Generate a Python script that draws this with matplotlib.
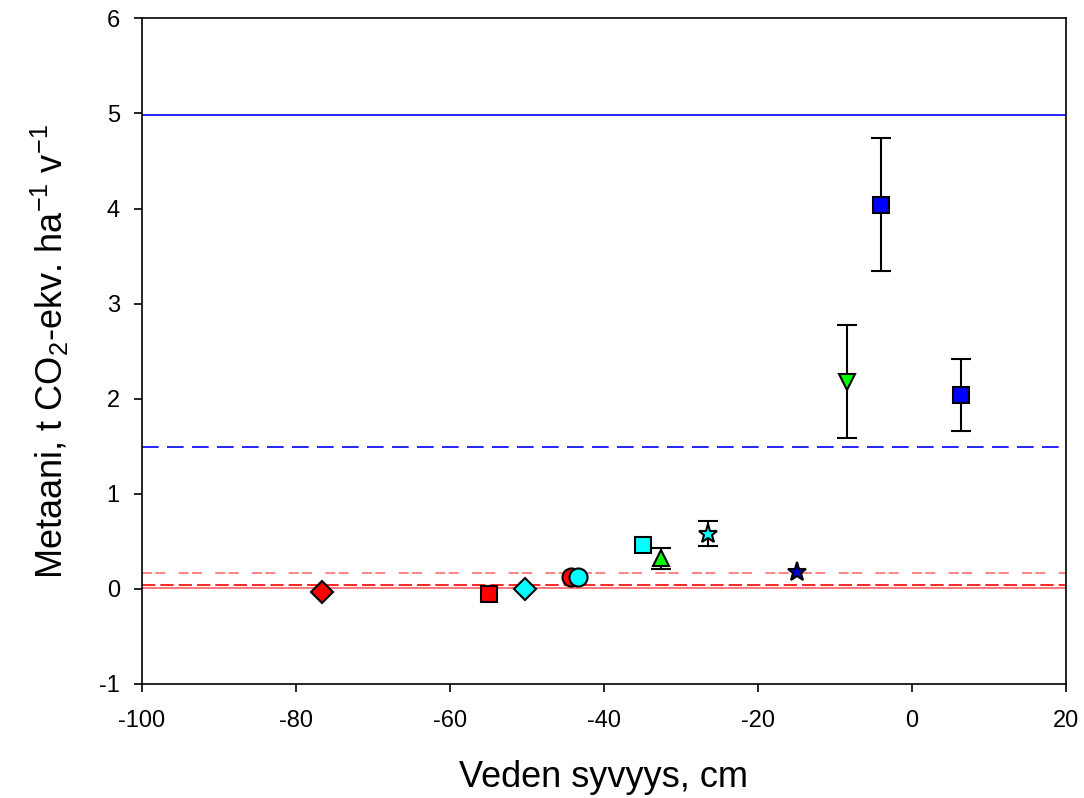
import numpy as np
import matplotlib
matplotlib.use("Agg")
from matplotlib import pyplot as plt

plt.rcParams['font.family'] = ['Liberation Sans', 'DejaVu Sans']
plt.rcParams['mathtext.default'] = 'regular'
plt.rcParams['axes.unicode_minus'] = False

# data: depth (cm), methane (t CO2-eq / ha / yr), error
depth = [-76.6, -54.9, -50.3, -44.3, -43.4, -34.9, -32.6, -26.5, -14.9, -8.4, -4.0, 6.4]
metaani = [-0.03, -0.05, 0.0, 0.12, 0.12, 0.46, 0.32, 0.58, 0.18, 2.18, 4.04, 2.04]
err = [0, 0, 0, 0, 0, 0, 0.11, 0.13, 0, 0.59, 0.70, 0.38]
markers = ['D', 's', 'D', 'o', 'o', 's', '^', '*', '*', 'v', 's', 's']
colors = ['red', 'red', 'cyan', 'red', 'cyan', 'cyan', '#00ff00', 'cyan', '#0000cc', '#00ff00', 'blue', 'blue']
sizes = [11, 11, 11, 13, 13, 11, 12, 14, 14, 12, 11, 11]

# reference lines
ref_y = [4.98, 1.49, 0.17, 0.04, 0.005]
ref_col = ['blue', 'blue', '#ff7070', 'red', '#ff6060']
ref_ls = ['-', (0, (10, 5)), (0, (6, 2, 6, 8)), (0, (8, 3)), '-']

fig = plt.figure(figsize=(10.84, 7.98), dpi=100)
ax = fig.add_axes([0.131, 0.143, 0.852, 0.834])

for y, c, ls in zip(ref_y, ref_col, ref_ls):
    ax.axhline(y, color=c, linestyle=ls, linewidth=1.2, zorder=1)

for x, y, e, m, c, s in zip(depth, metaani, err, markers, colors, sizes):
    if e > 0:
        ax.errorbar(x, y, yerr=e, fmt='none', ecolor='black', elinewidth=1.5,
                    capsize=7, capthick=1.5, zorder=2)
    ax.plot(x, y, marker=m, markersize=s, markerfacecolor=c, markeredgecolor='black',
            markeredgewidth=1.5, linestyle='none', zorder=3)

ax.set_xlim(-100, 20)
ax.set_ylim(-1, 6)
ax.set_xticks(np.arange(-100, 21, 20))
ax.set_yticks(np.arange(-1, 7, 1))
ax.tick_params(direction='out', length=6, width=1.2, labelsize=17)
ax.tick_params(axis='x', pad=13)
ax.tick_params(axis='y', pad=10)
for sp in ax.spines.values():
    sp.set_linewidth(1.2)

ax.set_xlabel('Veden syvyys, cm', fontsize=26, labelpad=20)
ax.set_ylabel('Metaani, t CO$_2$-ekv. ha$^{-1}$ v$^{-1}$', fontsize=26, labelpad=20)

plt.savefig('out.png', dpi=100)
